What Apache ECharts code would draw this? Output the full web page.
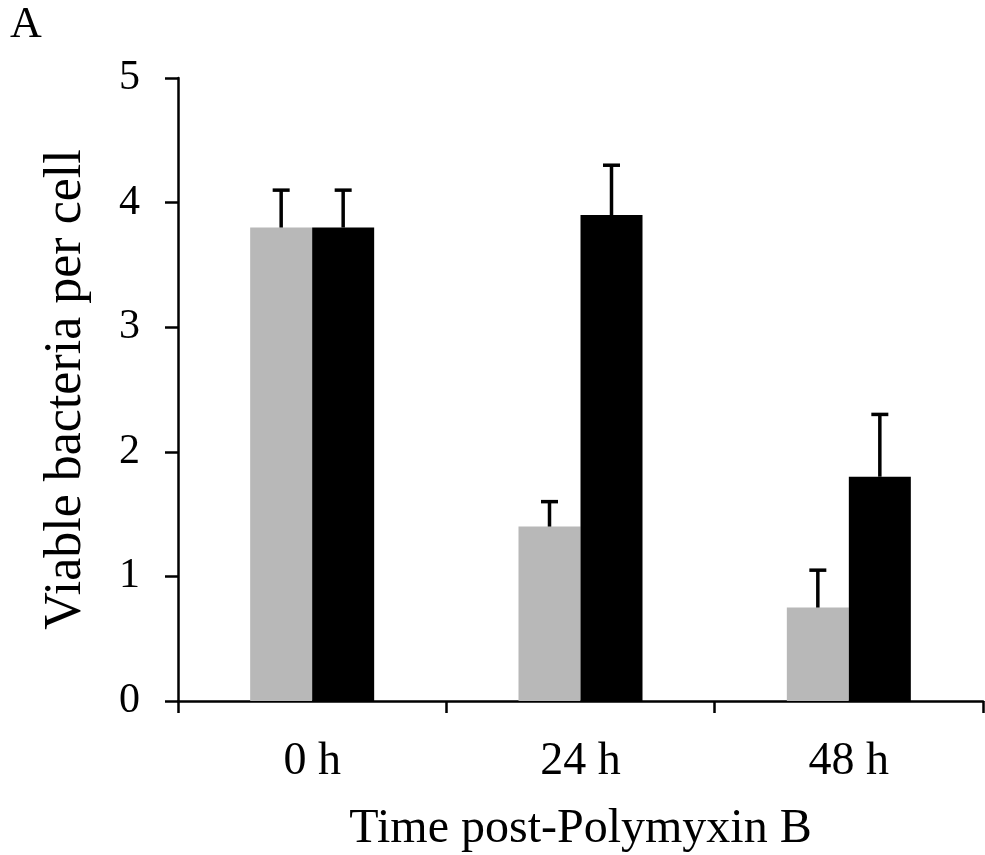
<!DOCTYPE html>
<html>
<head>
<meta charset="utf-8">
<script src="https://cdn.jsdelivr.net/npm/echarts@6/dist/echarts.min.js"></script>
<style>
	html, body { margin: 0; padding: 0; background: #fff; }
	#main { width: 985px; height: 855px; }
</style>
</head>
<body>
<div id="main"></div>
<script>
var categories = ['0 h', '24 h', '48 h'];
var yTicks = [0, 1, 2, 3, 4, 5];
var grayMeans = [3.8, 1.4, 0.75];
var grayErr = [0.3, 0.2, 0.3];
var blackMeans = [3.8, 3.9, 1.8];
var blackErr = [0.3, 0.4, 0.5];

var BAR_W = 62;
var serif = 'Liberation Serif';

/*误差线，只画上半部分*/
function errorSeries(means, errs, side) {
	var data = [];
	for (var i = 0; i < means.length; i++) {
		data.push([i, means[i], means[i] + errs[i]]);
	}
	return {
		type: 'custom',
		z: 10,
		data: data,
		encode: { x: 0, y: [1, 2] },
		renderItem: function(params, api) {
			var c = api.coord([api.value(0), api.value(1)]);
			var t = api.coord([api.value(0), api.value(2)]);
			var x = c[0] + side * BAR_W / 2;
			var st = { stroke: '#000', lineWidth: 3.5 };
			return {
				type: 'group',
				children: [{
					type: 'line',
					shape: { x1: x, y1: c[1], x2: x, y2: t[1] },
					style: st
				}, {
					type: 'line',
					shape: { x1: x - 8.5, y1: t[1], x2: x + 8.5, y2: t[1] },
					style: st
				}]
			};
		}
	};
}

var chart = echarts.init(document.getElementById('main'));
var option = {
	animation: false,
	backgroundColor: '#fff',
	textStyle: { fontFamily: serif, color: '#000' },
	graphic: [{
		type: 'text',
		left: 10,
		top: 3,
		style: { text: 'A', font: '44px ' + serif, fill: '#000' }
	}],
	grid: { left: 178, top: 78, right: 2, bottom: 154, outerBoundsMode: 'none' },
	xAxis: {
		type: 'category',
		data: categories,
		name: 'Time post-Polymyxin B',
		nameLocation: 'middle',
		nameGap: 104,
		nameTextStyle: { fontFamily: serif, fontSize: 48, color: '#000' },
		axisLine: { lineStyle: { color: '#000', width: 2.5 } },
		axisTick: { show: true, length: 12, lineStyle: { color: '#000', width: 2.5 } },
		axisLabel: { fontFamily: serif, fontSize: 46, color: '#000', margin: 38 }
	},
	yAxis: {
		type: 'value',
		min: yTicks[0],
		max: yTicks[yTicks.length - 1],
		interval: 1,
		name: 'Viable bacteria per cell',
		nameLocation: 'middle',
		nameGap: 86,
		nameTextStyle: { fontFamily: serif, fontSize: 52, color: '#000' },
		splitLine: { show: false },
		axisLine: { show: true, lineStyle: { color: '#000', width: 2.5 } },
		axisTick: { show: true, length: 13, lineStyle: { color: '#000', width: 2.5 } },
		axisLabel: { fontFamily: serif, fontSize: 42, color: '#000', margin: 38 }
	},
	series: [{
		type: 'bar',
		data: grayMeans,
		barWidth: BAR_W,
		barGap: '0%',
		itemStyle: { color: '#b8b8b8' }
	}, {
		type: 'bar',
		data: blackMeans,
		barWidth: BAR_W,
		itemStyle: { color: '#000' }
	},
	errorSeries(grayMeans, grayErr, -1),
	errorSeries(blackMeans, blackErr, 1)]
};
chart.setOption(option);
</script>
</body>
</html>
